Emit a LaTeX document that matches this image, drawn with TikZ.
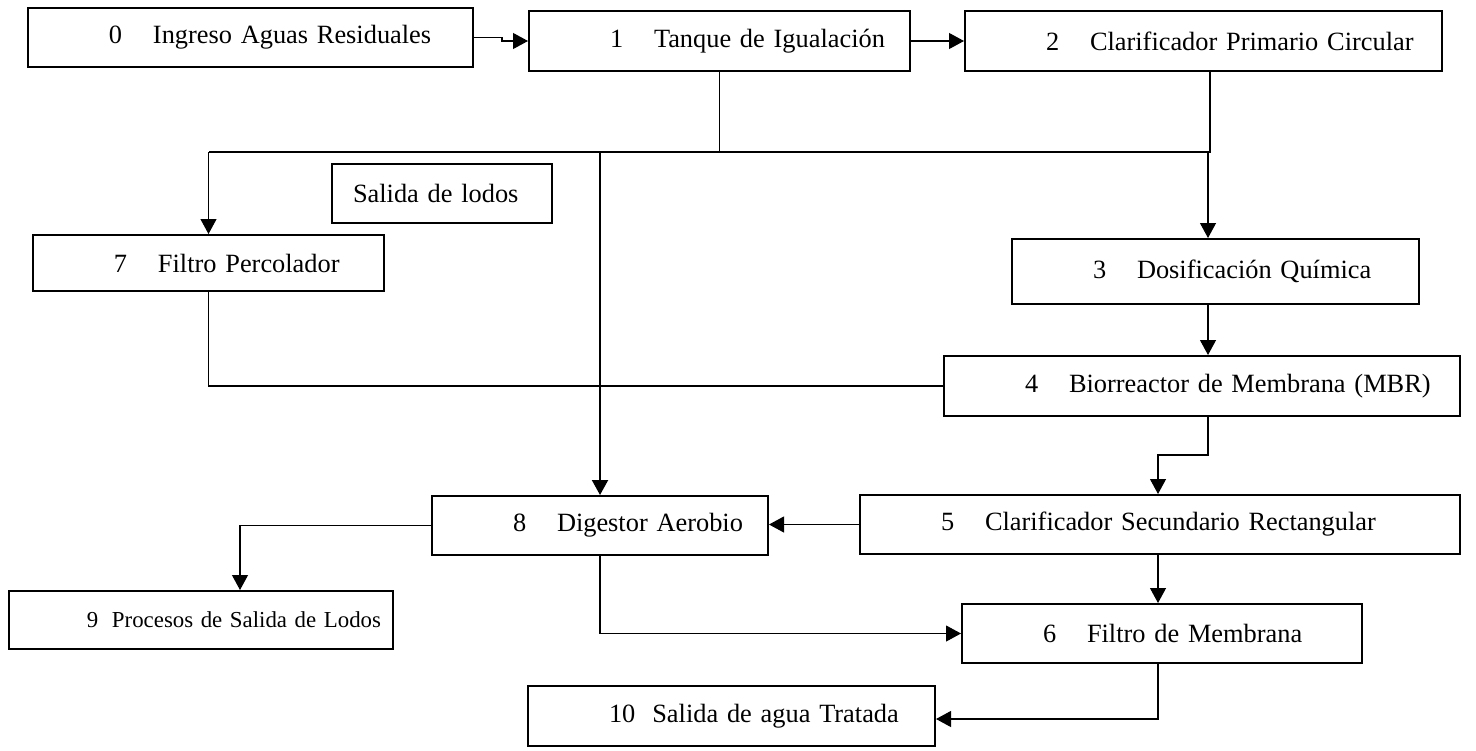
\documentclass[tikz,border=0pt]{standalone}
\usepackage{fontspec}
\setmainfont{Liberation Serif}
\usetikzlibrary{arrows.meta,calc}
\newcommand{\stg}[2]{\mbox{\hspace*{16.2mm}\makebox[8.8mm][l]{#1}#2}}

\begin{document}
\begin{tikzpicture}[x=.2mm,y=-.2mm,font=\fontsize{15pt}{18pt}\selectfont,
    stage/.style={draw,line width=.4mm,text width=#1,align=left,inner xsep=0pt,
      inner ysep=0pt,minimum height=11.8mm},
    flow/.style={-{Triangle[length=3mm,width=3.2mm]},line width=.22mm},
    link/.style={line width=.22mm}]
  \useasboundingbox (0,0) rectangle (1476,750);
  % boxes
  \node[stage=89mm] (n0) at (250.5,37.5) {\stg{0}{Ingreso Aguas Residuales}};
  \node[stage=76.2mm] (n1) at (719.5,41) {\stg{1}{Tanque de Igualación}};
  \node[stage=95.4mm] (n2) at (1203.5,41) {\stg{2}{Clarificador Primario Circular}};
  \node[stage=44mm] (lodos) at (442,193.5) {\mbox{\hspace*{4.2mm}Salida de lodos}};
  \node[stage=70.2mm,minimum height=11.2mm] (n7) at (208.5,263) {\stg{7}{Filtro Percolador}};
  \node[stage=81.4mm,minimum height=13mm] (n3) at (1215.5,271.5) {\stg{3}{Dosificación Química}};
  \node[stage=103.2mm,minimum height=12mm] (n4) at (1202,386) {\stg{4}{Biorreactor de Membrana (MBR)}};
  \node[stage=67.2mm] (n8) at (600,525.5) {\stg{8}{Digestor Aerobio}};
  \node[stage=120mm] (n5) at (1160,524.5) {\stg{5}{Clarificador Secundario Rectangular}};
  \node[stage=76.8mm,minimum height=11.6mm,font=\fontsize{13pt}{16pt}\selectfont] (n9) at (201,620)
    {\mbox{\hspace*{15.6mm}\makebox[5mm][l]{9}Procesos de Salida de Lodos}};
  \node[stage=80mm] (n6) at (1162,633.5) {\stg{6}{Filtro de Membrana}};
  \node[stage=81.4mm,minimum height=12mm] (n10) at (731.5,716) {\mbox{\hspace*{16.2mm}10\hspace{3.4mm}Salida de agua Tratada}};
  % top row
  \draw[flow] (n0.east) -- ++(28,0) |- (n1.west);
  \draw[flow] (n1.east) -- (n2.west);
  % collector below rows 1-2
  \coordinate (tr) at (0,152);
  \draw[link] (n1.south) -- (n1.south |- tr);
  \draw[link] ([xshift=1.3mm]n2.south) -- ([xshift=1.3mm]n2.south |- tr) -- (n7.north |- tr);
  \draw[flow] (n7.north |- tr) -- (n7.north);
  \draw[flow,line width=.4mm] (n8.north |- tr) -- (n8.north);
  \draw[flow] ([xshift=-1.5mm]n3.north |- tr) -- ([xshift=-1.5mm]n3.north);
  % middle
  \draw[flow] ([xshift=-1.5mm]n3.south) -- ([xshift=-1.5mm]n3.south |- n4.north);
  \draw[link] (n7.south) |- (n4.west);
  \draw[flow] ([xshift=1.2mm]n4.south) -- ++(0,38) -| ([xshift=-.4mm]n5.north);
  \draw[flow] (n5.west) -- (n5.west -| n8.east);
  % bottom
  \draw[flow] (n8.west) -| ([xshift=7.8mm]n9.north);
  \draw[flow] (n8.south) |- (n6.west);
  \draw[flow] ([xshift=-.4mm]n5.south) -- ([xshift=-.4mm]n5.south |- n6.north);
  \draw[flow] ([xshift=-.8mm]n6.south) |- ([yshift=-.6mm]n10.east);
\end{tikzpicture}
\end{document}
